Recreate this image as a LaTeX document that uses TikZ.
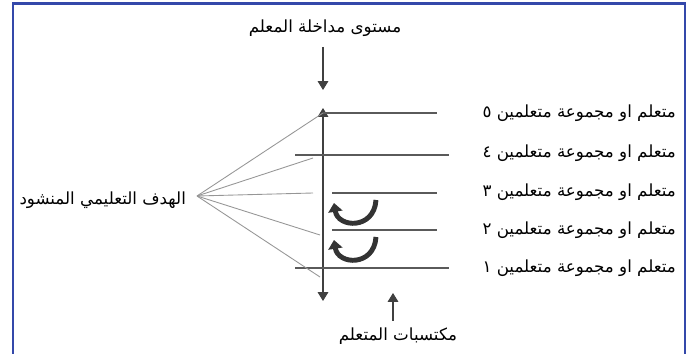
\documentclass[tikz,border=0pt]{standalone}
\usepackage{fontspec}
\newfontfamily\arabicfont[Script=Arabic]{DejaVu Sans}
\TeXXeTstate=1
\definecolor{FrameBlue}{RGB}{52, 72, 170}
\definecolor{LineGray}{RGB}{90, 90, 90}
\definecolor{FanGray}{RGB}{150, 150, 150}
\usetikzlibrary{arrows.meta, positioning}

\begin{document}
\begin{tikzpicture}[
    x=0.02cm, y=-0.02cm,
    every node/.style={font=\arabicfont\fontsize{9.5}{11}\selectfont, inner sep=1pt},
    hline/.style={draw=LineGray, line width=0.6pt},
    fanline/.style={draw=FanGray, line width=0.5pt},
    axis/.style={draw=black!75, line width=0.6pt},
    tip/.style={-{Triangle[length=5pt, width=6pt]}},
    turn/.style={draw=black!80, line width=2.8pt, -{Triangle[length=5pt, width=8pt]}}
]
\useasboundingbox (0,0) rectangle (693,354);
% frame
\draw[FrameBlue, line width=1.2pt] (13,354) -- (13,3.5) -- (685,3.5) -- (685,354);

% labels
\node (teacher) at (325,28) {\beginR مستوى مداخلة المعلم\endR};
\node (gains) at (398,336) {\beginR مكتسبات المتعلم\endR};
\node[anchor=east] (goal) at (188,200) {\beginR الهدف التعليمي المنشود\endR};
\node[anchor=east] (l5) at (678,113) {\beginR متعلم او مجموعة متعلمين ٥\endR};
\node[anchor=east] (l4) at (678,153) {\beginR متعلم او مجموعة متعلمين ٤\endR};
\node[anchor=east] (l3) at (678,192) {\beginR متعلم او مجموعة متعلمين ٣\endR};
\node[anchor=east] (l2) at (678,230) {\beginR متعلم او مجموعة متعلمين ٢\endR};
\node[anchor=east] (l1) at (678,268) {\beginR متعلم او مجموعة متعلمين ١\endR};

% axis and arrows
\coordinate (tin) at (323,47);
\coordinate (tout) at (323,90);
\coordinate (atop) at (323,108);
\coordinate (abot) at (323,301);
\coordinate (gin) at (393,321);
\coordinate (gout) at (393,293);
\draw[axis, tip] (tin) -- (tout);
\draw[axis, {Triangle[length=5pt, width=6pt]}-{Triangle[length=5pt, width=6pt]}] (abot) -- (atop);
\draw[axis, tip] (gin) -- (gout);

% learner levels
\coordinate (h5a) at (323,113); \coordinate (h5b) at (437,113);
\coordinate (h4a) at (295,155); \coordinate (h4b) at (449,155);
\coordinate (h3a) at (332,193); \coordinate (h3b) at (437,193);
\coordinate (h2a) at (332,230); \coordinate (h2b) at (437,230);
\coordinate (h1a) at (295,268); \coordinate (h1b) at (449,268);
\draw[hline] (h5a) -- (h5b);
\draw[hline] (h4a) -- (h4b);
\draw[hline] (h3a) -- (h3b);
\draw[hline] (h2a) -- (h2b);
\draw[hline] (h1a) -- (h1b);

% fan from the goal
\coordinate (apex) at (197,196);
\coordinate (f4) at (313,158);
\coordinate (f3) at (313,193);
\coordinate (f2) at (320,235);
\coordinate (f1) at (320,277);
\draw[fanline] (apex) -- (h5a);
\draw[fanline] (apex) -- (f4);
\draw[fanline] (apex) -- (f3);
\draw[fanline] (apex) -- (f2);
\draw[fanline] (apex) -- (f1);

% turning arrows
\coordinate (u1a) at (376,200); \coordinate (u1b) at (334,203);
\coordinate (u2a) at (376,237); \coordinate (u2b) at (334,240);
\draw[turn] (u1a) .. controls (374,230) and (338,228) .. (u1b);
\draw[turn] (u2a) .. controls (374,267) and (338,265) .. (u2b);
\end{tikzpicture}
\end{document}
